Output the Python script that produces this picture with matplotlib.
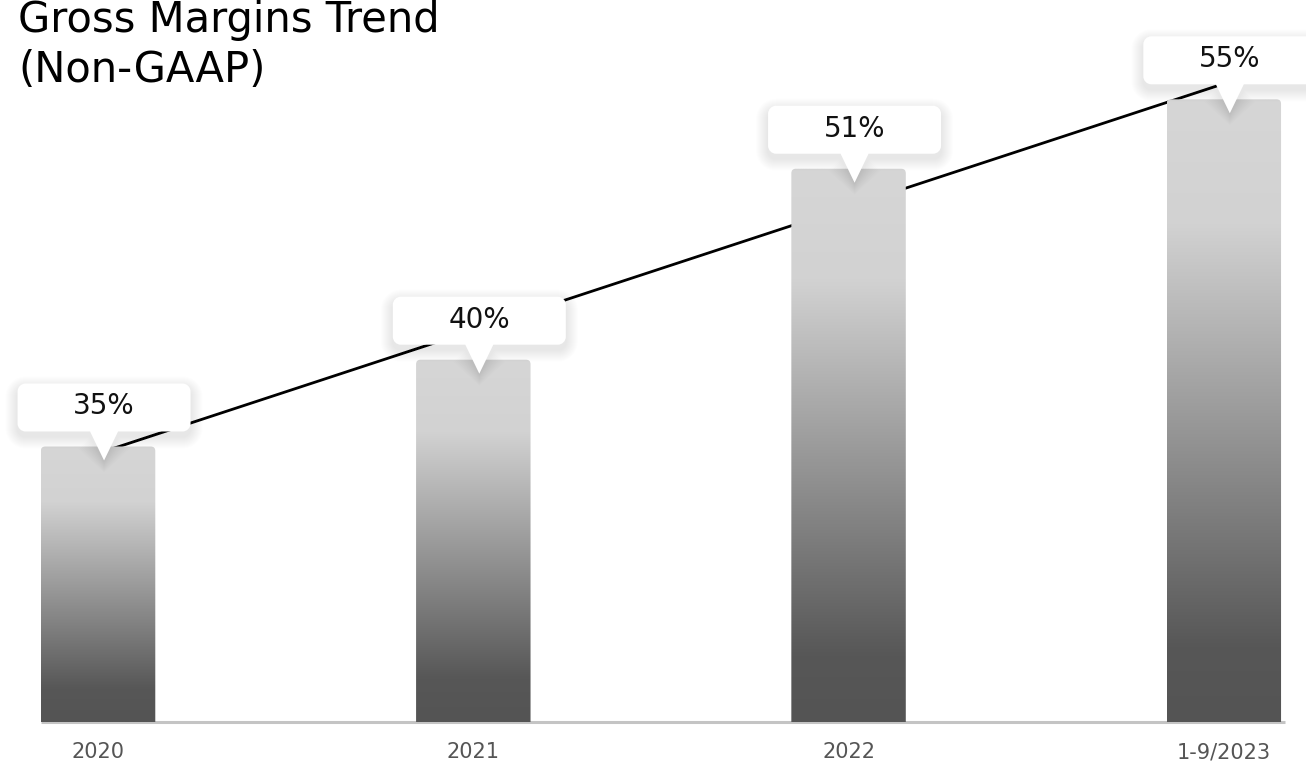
import numpy as np
import matplotlib
matplotlib.use("Agg")
import matplotlib.pyplot as plt
import matplotlib.transforms as mtransforms
from matplotlib.patches import FancyBboxPatch, PathPatch
from matplotlib.path import Path
from matplotlib.colors import LinearSegmentedColormap

# ---- data ----
categories = ["2020", "2021", "2022", "1-9/2023"]
margins = [35, 40, 51, 55]
value_labels = ["35%", "40%", "51%", "55%"]
title_lines = ["Gross Margins Trend", "(Non-GAAP)"]

FONT = ["DejaVu Sans"]
plt.rcParams["font.family"] = FONT

W, H, DPI = 1306, 761, 100
fig = plt.figure(figsize=(W / DPI, H / DPI), dpi=DPI)
fig.patch.set_facecolor("white")

# axes: left edge at 17 px, bottom (baseline) at 722 px from top
ax_left = 17 / W
ax_bottom = (H - 722) / H
ax = fig.add_axes([ax_left, ax_bottom, 1 - ax_left, 1 - ax_bottom])
ax.set_facecolor("none")

x = np.arange(len(categories))
bar_w = 0.305
ymin = 19.13
px_per_unit = 17.36
ymax = ymin + 722 / px_per_unit
ax.set_xlim(-0.216, 3.219)
ax.set_ylim(ymin, ymax)
for s in ax.spines.values():
    s.set_visible(False)
ax.set_xticks([])
ax.set_yticks([])

# baseline
ax.plot([x[0] - bar_w / 2, x[-1] + bar_w / 2 + 0.01], [ymin, ymin],
        color="#c4c4c4", lw=2.2, solid_capstyle="butt", zorder=2, clip_on=False)

# trend line (linear fit of the values), drawn behind bars
coef = np.polyfit(x, margins, 1)
tx = np.array([x[0], x[-1]])
ax.plot(tx, np.polyval(coef, tx), color="black", lw=2.0, zorder=1)

# gradient bars
cmap = LinearSegmentedColormap.from_list(
    "g", [(0.0, "#d6d6d6"), (0.2, "#d2d2d2"), (0.88, "#575757"), (1.0, "#545454")])
grad = np.linspace(0, 1, 256).reshape(-1, 1)
for xi, v in zip(x, margins):
    x0 = xi - bar_w / 2
    im = ax.imshow(grad, cmap=cmap, vmin=0, vmax=1, aspect="auto",
                   extent=[x0, x0 + bar_w, ymin, v], origin="upper", zorder=3,
                   interpolation="bilinear")
    clip = FancyBboxPatch((x0, ymin - 1), bar_w, v - ymin + 1,
                          boxstyle="round,pad=0,rounding_size=0.012",
                          mutation_aspect=375.3 / px_per_unit,
                          transform=ax.transData, facecolor="none", edgecolor="none")
    ax.add_patch(clip)
    im.set_clip_path(clip)

# x tick labels
for xi, lab in zip(x, categories):
    ax.annotate(lab, xy=(xi, ymin), xytext=(0, -30), textcoords="offset pixels",
                ha="center", va="center", fontsize=15, color="#555555",
                annotation_clip=False)


def rounded_callout_path(x0, y0, w, h, r, tip_half, tip_x, tip_y):
    """Closed path (pixel units) of a rounded rect with a downward pointer."""
    k = 0.5523
    verts = [(x0 + r, y0),
             (tip_x - tip_half, y0), (tip_x, tip_y), (tip_x + tip_half, y0), (x0 + w - r, y0),
             (x0 + w - r + k * r, y0), (x0 + w, y0 + r - k * r), (x0 + w, y0 + r),
             (x0 + w, y0 + h - r),
             (x0 + w, y0 + h - r + k * r), (x0 + w - r + k * r, y0 + h), (x0 + w - r, y0 + h),
             (x0 + r, y0 + h),
             (x0 + r - k * r, y0 + h), (x0, y0 + h - r + k * r), (x0, y0 + h - r),
             (x0, y0 + r),
             (x0, y0 + r - k * r), (x0 + r - k * r, y0), (x0 + r, y0),
             (x0 + r, y0)]
    codes = ([Path.MOVETO] + [Path.LINETO] * 4 + [Path.CURVE4] * 3 + [Path.LINETO]
             + [Path.CURVE4] * 3 + [Path.LINETO] + [Path.CURVE4] * 3 + [Path.LINETO]
             + [Path.CURVE4] * 3 + [Path.CLOSEPOLY])
    return Path(verts, codes)


for xi, v, lab in zip(x, margins, value_labels):
    off = 6
    trans = mtransforms.Affine2D() + mtransforms.ScaledTranslation(xi, v, ax.transData)
    bw, bh = 173, 48
    bx0, by0 = -bw / 2 + off, 15
    path = rounded_callout_path(bx0, by0, bw, bh, 8, 14, off, -14)
    # soft shadow
    n = 12
    for i in range(n):
        grow = 1.0 * (i + 1)
        sp = rounded_callout_path(bx0 - grow, by0 - grow - 5, bw + 2 * grow, bh + 2 * grow,
                                  8 + grow, 14 + grow, off, -14 - grow)
        ax.add_patch(PathPatch(sp, transform=trans, facecolor="#000000", edgecolor="none",
                               alpha=0.008, zorder=4, clip_on=False))
    ax.add_patch(PathPatch(path, transform=trans, facecolor="white", edgecolor="none",
                           zorder=5, clip_on=False))
    ax.text(off, by0 + bh / 2 + 1, lab, transform=trans, ha="center", va="center",
            fontsize=20, color="#111111", zorder=6)

fig.text(18 / W, 1 - 32 / H, title_lines[0], ha="left", va="baseline", fontsize=30,
         color="black")
fig.text(18 / W, 1 - 82 / H, title_lines[1], ha="left", va="baseline", fontsize=30,
         color="black")

fig.savefig("out.png", dpi=DPI, facecolor="white")
